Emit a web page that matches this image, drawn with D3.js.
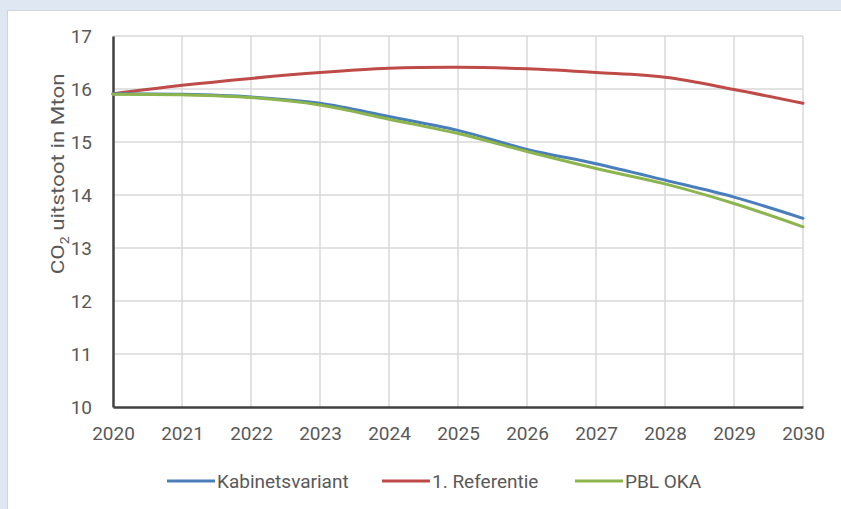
<!DOCTYPE html>
<html>
<head>
<meta charset="utf-8">
<script src="https://cdn.jsdelivr.net/npm/d3@7"></script>
<style>
  html, body { margin: 0; padding: 0; background: #dfe8f2; }
  svg { display: block; }
  text { font-family: "Liberation Sans Narrow", "Roboto", "Liberation Sans", sans-serif; fill: #595959; }
</style>
</head>
<body>
<div id="chart"></div>
<script>
// Years on the x axis
const years = [2020, 2021, 2022, 2023, 2024, 2025, 2026, 2027, 2028, 2029, 2030];

// CO2 emissions (Mton) per scenario
const kabinetsvariant = [15.91, 15.90, 15.85, 15.73, 15.48, 15.22, 14.86, 14.59, 14.28, 13.96, 13.56];
const referentie = [15.91, 16.07, 16.20, 16.31, 16.39, 16.41, 16.38, 16.31, 16.22, 15.99, 15.73];
const pblOka = [15.90, 15.89, 15.84, 15.70, 15.43, 15.16, 14.82, 14.50, 14.21, 13.84, 13.40];

const seriesNames = ["Kabinetsvariant", "1. Referentie", "PBL OKA"];
const seriesColors = ["#4a7ebb", "#be4b48", "#8db54d"];

const yTicks = [10, 11, 12, 13, 14, 15, 16, 17];

(function() {
    const W = 841, H = 509;
    const margin = { top: 36, right: 38, bottom: 102, left: 113 };
    const width = W - margin.left - margin.right,
        height = H - margin.top - margin.bottom;

    const root = d3.select("#chart").append("svg")
        .attr("width", W)
        .attr("height", H);

    // white chart panel on the light blue page
    root.append("rect")
        .attr("x", 7.5).attr("y", 10.5)
        .attr("width", W).attr("height", H)
        .attr("fill", "#fff")
        .attr("stroke", "#d4d4d4");

    const svg = root.append("g")
        .attr("transform", `translate(${margin.left},${margin.top})`);

    const x = d3.scaleLinear()
        .domain([years[0], years[years.length - 1]])
        .range([0, width]);
    const y = d3.scaleLinear()
        .domain([10, 17])
        .range([height, 0]);

    // gridlines
    svg.append("g")
        .selectAll("line.h")
        .data(yTicks.slice(1))
        .enter().append("line")
        .attr("x1", 0).attr("x2", width)
        .attr("y1", d => y(d)).attr("y2", d => y(d))
        .attr("stroke", "#d9d9d9").attr("stroke-width", 1.5);
    svg.append("g")
        .selectAll("line.v")
        .data(years.slice(1))
        .enter().append("line")
        .attr("x1", d => x(d)).attr("x2", d => x(d))
        .attr("y1", 0).attr("y2", height)
        .attr("stroke", "#d9d9d9").attr("stroke-width", 1.5);

    // axes
    const xAxis = svg.append("g")
        .attr("transform", `translate(0,${height})`)
        .call(d3.axisBottom(x).tickValues(years).tickFormat(d3.format("d")).tickSize(0).tickPadding(20));
    xAxis.select(".domain").attr("stroke", "#404040").attr("stroke-width", 2.5);
    xAxis.selectAll("text").style("font-size", "19px").attr("fill", "#595959");

    const yAxis = svg.append("g")
        .call(d3.axisLeft(y).tickValues(yTicks).tickFormat(d3.format("d")).tickSize(0).tickPadding(21));
    yAxis.select(".domain").attr("stroke", "#404040").attr("stroke-width", 2.5);
    yAxis.selectAll("text").style("font-size", "19px").attr("fill", "#595959");

    // y axis title (stretched along its length like the original)
    const title = svg.append("text")
        .attr("transform", `translate(-49,${y(14.4)}) rotate(-90) scale(1.18,1)`)
        .style("text-anchor", "middle")
        .style("font-size", "19px");
    title.append("tspan").text("CO");
    title.append("tspan").text("2").attr("dy", 5).style("font-size", "12px");
    title.append("tspan").text(" uitstoot in Mton").attr("dy", -5);

    // lines
    const line = d3.line()
        .curve(d3.curveCatmullRom.alpha(0.5))
        .x((d, i) => x(years[i]))
        .y(d => y(d));

    const allSeries = [kabinetsvariant, referentie, pblOka];
    const drawOrder = [1, 0, 2];
    drawOrder.forEach(i => {
        svg.append("path")
            .datum(allSeries[i])
            .attr("fill", "none")
            .attr("stroke", seriesColors[i])
            .attr("stroke-width", 3)
            .attr("stroke-linecap", "round")
            .attr("d", line);
    });

    // legend
    const legendX = [167, 382, 575];
    const legend = root.selectAll(".legend")
        .data(seriesNames)
        .enter().append("g")
        .attr("class", "legend")
        .attr("transform", (d, i) => `translate(${legendX[i]},481)`);
    legend.append("line")
        .attr("x1", 0).attr("x2", 48)
        .attr("stroke", (d, i) => seriesColors[i])
        .attr("stroke-width", 3);
    legend.append("text")
        .attr("x", 50)
        .attr("dy", "0.35em")
        .style("font-size", "19px")
        .text(d => d);
})();
</script>
</body>
</html>
